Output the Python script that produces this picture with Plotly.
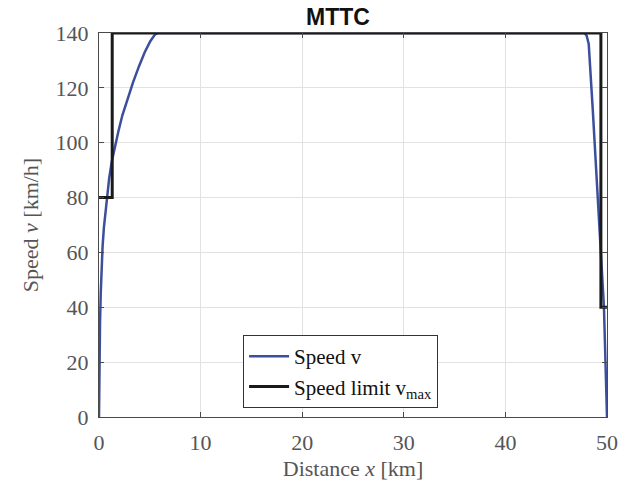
import plotly.graph_objects as go

# Train speed profile along the line (distance in km, speed in km/h)
dist_km = [0, 0.02, 0.05, 0.1, 0.17, 0.25, 0.35, 0.48, 0.63, 0.8, 1.0, 1.25, 1.55,
           1.9, 2.3, 2.8, 3.35, 3.95, 4.5, 5.05, 5.5, 5.8,
           43.5, 47.8, 48.0, 48.2, 48.6, 49.0, 49.35, 49.7, 49.85, 50.0]
speed_kmh = [0, 12, 22, 34, 45, 54, 62, 69, 75, 81, 87, 93, 98.5,
             104, 110, 116, 122, 128, 133, 137, 139.4, 140,
             140, 140, 139, 136, 112, 84, 60, 40, 20, 0]

# Speed limit along the line
limit_dist_km = [0, 1.3, 1.3, 49.4, 49.4, 50.0]
limit_kmh = [80, 80, 140, 140, 40, 40]

x_ticks = [0, 10, 20, 30, 40, 50]
y_ticks = [0, 20, 40, 60, 80, 100, 120, 140]

serif = "Liberation Serif, Times New Roman, serif"
gray_text = "#555555"

fig = go.Figure()
fig.add_trace(go.Scatter(
    x=dist_km, y=speed_kmh, mode="lines", name="Speed v",
    line=dict(color="#3c4f9c", width=2.5),
))
fig.add_trace(go.Scatter(
    x=limit_dist_km, y=limit_kmh, mode="lines", name="Speed limit v<sub>max</sub>",
    line=dict(color="#1a1a1a", width=3, shape="linear"),
))

axis_common = dict(
    showgrid=True, gridcolor="#e2e2e2", gridwidth=1,
    showline=True, linecolor="#4a4a4a", linewidth=1, mirror="ticks",
    ticks="inside", ticklen=5, tickcolor="#4a4a4a",
    tickfont=dict(family=serif, size=22, color=gray_text),
    zeroline=False,
)

fig.update_layout(
    width=618, height=484,
    margin=dict(l=99, r=11, t=33, b=67, autoexpand=False),
    paper_bgcolor="white", plot_bgcolor="white",
    title=dict(
        text="<b>MTTC</b>", x=338 / 618, xanchor="center",
        y=1 - 17 / 484, yanchor="middle", yref="container",
        font=dict(family="Liberation Sans, Arial, sans-serif", size=23, color="#111111"),
    ),
    xaxis=dict(
        axis_common, range=[0, 50], tickvals=x_ticks,
        ticklabelstandoff=6,
        title=dict(text="Distance <i>x</i> [km]", standoff=6,
                   font=dict(family=serif, size=22, color=gray_text)),
    ),
    yaxis=dict(
        axis_common, range=[0, 140], tickvals=y_ticks,
        ticklabelstandoff=5,
        title=dict(text="Speed <i>v</i> [km/h]", standoff=10,
                   font=dict(family=serif, size=22, color=gray_text)),
    ),
    legend=dict(
        x=(243 - 99) / 507.7, y=(417 - 335) / 384, xanchor="left", yanchor="top",
        bgcolor="white", bordercolor="#333333", borderwidth=1,
        font=dict(family=serif, size=21, color="#111111"),
        tracegroupgap=0, itemwidth=40,
    ),
    showlegend=True,
)

fig.write_html("out.html")
